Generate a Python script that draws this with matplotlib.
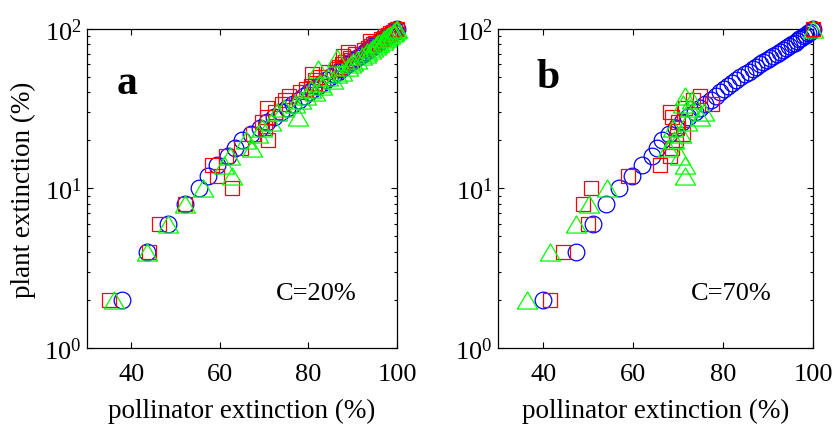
import matplotlib
matplotlib.use("Agg")
import matplotlib.pyplot as plt
from matplotlib.ticker import LogLocator, NullFormatter

plt.rcParams['font.family'] = ['Liberation Serif', 'DejaVu Serif']
plt.rcParams['mathtext.fontset'] = 'custom'
plt.rcParams['mathtext.rm'] = 'Liberation Serif'
plt.rcParams['mathtext.it'] = 'Liberation Serif:italic'

# ---------------- data (pollinator extinction %, plant extinction %) ----------------
# Panel a (C=20%)
a_circ_y = [2, 4, 6, 8, 10, 12, 14, 16, 18, 20, 22, 24, 26, 28, 30, 32, 34, 36, 38, 40,
            42, 44, 46, 48, 50, 52, 54, 56, 58, 60, 62, 64, 66, 68, 70, 72, 74, 76, 78, 80,
            82, 84, 86, 88, 90, 92, 94, 96, 98, 100]
a_circ_x = [38.0, 43.5, 48.4, 52.2, 55.2, 57.4, 59.3, 61.9, 63.5, 65.0, 67.1, 69.0, 70.7, 72.3,
            73.8, 75.2, 76.5, 77.8, 79.0, 80.1, 81.1, 82.1, 83.1, 84.0, 84.9, 85.8, 86.6, 87.4,
            88.1, 88.9, 89.6, 90.3, 91.0, 91.6, 92.2, 92.8, 93.4, 94.0, 94.6, 95.1, 95.7, 96.2,
            96.7, 97.2, 97.7, 98.2, 98.6, 99.1, 99.5, 100.0]

a_sq_y = a_circ_y
a_sq_x = [35.0, 44.0, 46.3, 52.2, 62.8, 59.3, 58.3, 61.3, 64.7, 70.9, 67.5, 70.2, 69.5, 70.6,
          72.5, 70.6, 74.0, 74.8, 75.5, 78.0, 79.5, 80.5, 81.5, 81.5, 82.5, 80.7, 84.5, 86.5,
          87.0, 87.5, 88.2, 89.5, 89.3, 87.9, 90.5, 89.0, 92.5, 93.5, 94.0, 94.5, 95.0, 93.9,
          96.3, 97.0, 97.3, 98.0, 98.4, 99.0, 99.5, 100.0]

a_tri_y = a_circ_y
a_tri_x = [36.0, 43.5, 48.2, 52.2, 56.3, 62.7, 61.0, 62.3, 67.2, 66.0, 68.5, 69.5, 71.5, 77.7,
           73.0, 74.5, 77.0, 78.2, 79.5, 81.5, 80.5, 83.0, 82.5, 85.5, 84.5, 86.5, 87.5, 82.2,
           89.0, 89.5, 90.0, 91.0, 86.4, 92.0, 93.0, 93.3, 94.0, 94.5, 95.2, 95.5, 96.0, 96.8,
           97.0, 97.6, 98.0, 98.5, 99.0, 99.3, 99.8, 100.0]

# Panel b (C=70%)
b_circ_y = a_circ_y
b_circ_x = [39.9, 47.2, 51.1, 53.9, 56.9, 59.8, 61.9, 64.1, 65.3, 66.3, 68.0, 69.5, 70.8, 72.2,
            73.6, 74.8, 76.0, 77.2, 78.3, 79.3, 80.2, 81.1, 81.9, 82.9, 83.8, 84.8, 85.6, 86.5,
            87.3, 88.1, 88.9, 89.6, 90.4, 91.1, 91.8, 92.5, 93.2, 93.8, 94.5, 95.2, 95.8, 96.3,
            96.8, 97.3, 97.8, 98.3, 98.8, 99.2, 99.6, 100.0]

b_sq_y = [2, 4, 6, 8, 10, 12, 14, 16, 18, 20, 22, 24, 26, 28, 30, 32, 34, 36, 38, 100]
b_sq_x = [41.5, 44.4, 50.0, 48.9, 50.6, 58.8, 65.9, 68.1, 68.5, 69.5, 71.1, 69.8, 70.0, 68.5,
          68.1, 71.5, 77.4, 73.3, 74.8, 100.0]

b_tri_y = [2, 4, 6, 8, 10, 12, 14, 16, 18, 20, 22, 24, 26, 28, 30, 32, 34, 36, 38, 100]
b_tri_x = [36.3, 41.6, 47.3, 50.2, 54.1, 71.5, 71.5, 70.4, 67.8, 69.0, 70.5, 68.9, 72.0, 74.8,
           75.6, 72.5, 71.0, 73.0, 71.5, 100.0]

x_ticks = [40, 60, 80, 100]
panel_letters = ['a', 'b']
panel_notes = ['C=20%', 'C=70%']

# triangle marker wider than tall (MATLAB-like)
tri_marker = [(-1, -0.85), (1, -0.85), (0, 0.85), (-1, -0.85)]

fig = plt.figure(figsize=(8.36, 4.39), dpi=100)
ax1 = fig.add_axes([0.104, 0.205, 0.371, 0.727])
ax2 = fig.add_axes([0.596, 0.205, 0.377, 0.727])

panels = [
    (ax1, a_circ_x, a_circ_y, a_sq_x, a_sq_y, a_tri_x, a_tri_y),
    (ax2, b_circ_x, b_circ_y, b_sq_x, b_sq_y, b_tri_x, b_tri_y),
]
letter_pos = [(0.097, 0.80), (0.121, 0.818)]

for i, (ax, cx, cy, sx, sy, tx, ty) in enumerate(panels):
    ax.plot(cx, cy, linestyle='none', marker='o', ms=12, mfc='none', mec=(0, 0, 1), mew=0.9,
            clip_on=False, zorder=3)
    ax.plot(sx, sy, linestyle='none', marker='s', ms=10.5, mfc='none', mec=(1, 0, 0), mew=0.9,
            clip_on=False, zorder=3)
    ax.plot(tx, ty, linestyle='none', marker=tri_marker, ms=14.5, mfc='none', mec=(0, 1, 0),
            mew=0.9, clip_on=False, zorder=3)
    ax.set_yscale('log')
    ax.set_xlim(30, 100)
    ax.set_ylim(1, 100)
    ax.set_xticks(x_ticks)
    ax.yaxis.set_major_locator(LogLocator(base=10, numticks=5))
    ax.yaxis.set_minor_locator(LogLocator(base=10, subs=range(2, 10), numticks=20))
    ax.yaxis.set_minor_formatter(NullFormatter())
    ax.tick_params(which='both', direction='in', top=True, right=True, labelsize=19, width=0.8)
    ax.tick_params(which='major', length=4)
    ax.tick_params(which='minor', length=2.5)
    ax.tick_params(axis='x', pad=11)
    ax.tick_params(axis='y', pad=4)
    for sp in ax.spines.values():
        sp.set_linewidth(0.9)
    ax.set_xlabel('pollinator extinction (%)', fontsize=19.5)
    ax.xaxis.set_label_coords(0.5, -0.155)
    ax.text(letter_pos[i][0], letter_pos[i][1], panel_letters[i], transform=ax.transAxes,
            fontsize=30, fontweight='bold', ha='left', va='baseline')
    ax.text(0.61, 0.154, panel_notes[i], transform=ax.transAxes, fontsize=19,
            ha='left', va='baseline')

ax1.set_ylabel('plant extinction (%)', fontsize=19.5)
ax1.yaxis.set_label_coords(-0.165, 0.5)

fig.savefig('out.png', dpi=100)
